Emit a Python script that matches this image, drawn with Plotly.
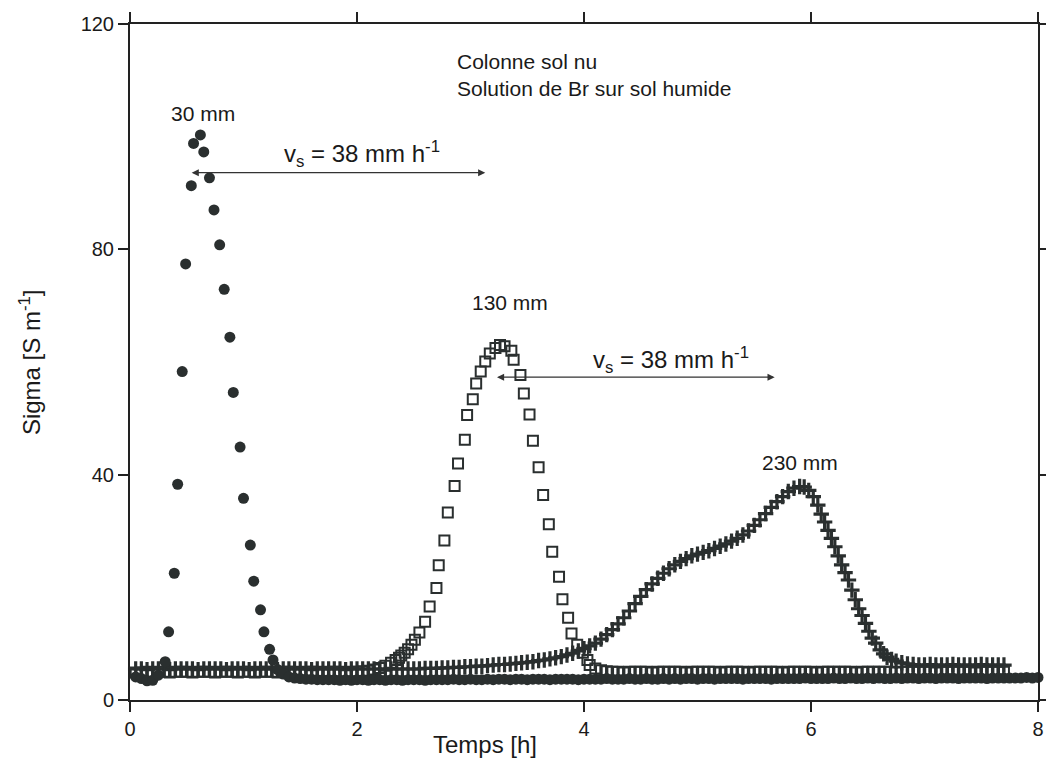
import plotly.graph_objects as go

# 30 mm probe (filled circles)
circ_t = [0.05, 0.10, 0.15, 0.20, 0.25,
          0.31, 0.34, 0.39, 0.42, 0.46, 0.49, 0.54, 0.56, 0.62, 0.65,
          0.70, 0.74, 0.79, 0.83, 0.88, 0.91, 0.97, 1.00, 1.06, 1.09,
          1.15, 1.18, 1.23, 1.26,
          1.30, 1.35, 1.40, 1.45, 1.50, 1.55, 1.60, 1.65, 1.70, 1.75,
          1.80, 1.85, 1.90, 1.95, 2.00, 2.05, 2.10, 2.15, 2.20, 2.25,
          2.30, 2.35, 2.40, 2.45, 2.50, 2.55, 2.60, 2.65, 2.70, 2.75,
          2.80, 2.85, 2.90, 2.95, 3.00, 3.05, 3.10, 3.15, 3.20, 3.25,
          3.30, 3.35, 3.40, 3.45, 3.50, 3.55, 3.60, 3.65, 3.70, 3.75,
          3.80, 3.85, 3.90, 3.95, 4.00, 4.05, 4.10, 4.15, 4.20, 4.25,
          4.30, 4.35, 4.40, 4.45, 4.50, 4.55, 4.60, 4.65, 4.70, 4.75,
          4.80, 4.85, 4.90, 4.95, 5.00, 5.05, 5.10, 5.15, 5.20, 5.25,
          5.30, 5.35, 5.40, 5.45, 5.50, 5.55, 5.60, 5.65, 5.70, 5.75,
          5.80, 5.85, 5.90, 5.95, 6.00, 6.05, 6.10, 6.15, 6.20, 6.25,
          6.30, 6.35, 6.40, 6.45, 6.50, 6.55, 6.60, 6.65, 6.70, 6.75,
          6.80, 6.85, 6.90, 6.95, 7.00, 7.05, 7.10, 7.15, 7.20, 7.25,
          7.30, 7.35, 7.40, 7.45, 7.50, 7.55, 7.60, 7.65, 7.70, 7.75,
          7.80, 7.85, 7.90, 7.95, 8.00]
circ_s = [4.1, 3.8, 3.4, 3.5, 4.4,
          6.8, 12.1, 22.5, 38.3, 58.3, 77.4, 91.3, 98.8, 100.3, 97.3,
          92.7, 87.0, 80.8, 72.9, 64.4, 54.6, 44.9, 35.8, 27.5, 21.1,
          16.0, 12.1, 9.0, 7.1,
          5.4, 4.6, 4.1, 3.9, 3.8, 3.7, 3.7, 3.6, 3.6, 3.6,
          3.6, 3.5, 3.6, 3.5, 3.6, 3.6, 3.5, 3.6, 3.6, 3.5,
          3.6, 3.6, 3.5, 3.6, 3.6, 3.6, 3.5, 3.6, 3.6, 3.6,
          3.6, 3.7, 3.6, 3.6, 3.7, 3.6, 3.6, 3.7, 3.6, 3.7,
          3.7, 3.6, 3.7, 3.7, 3.6, 3.7, 3.7, 3.7, 3.6, 3.7,
          3.7, 3.7, 3.7, 3.6, 3.7, 3.7, 3.7, 3.7, 3.8, 3.7,
          3.7, 3.7, 3.8, 3.7, 3.7, 3.8, 3.7, 3.7, 3.8, 3.7,
          3.8, 3.7, 3.8, 3.8, 3.7, 3.8, 3.8, 3.7, 3.8, 3.8,
          3.8, 3.8, 3.7, 3.8, 3.8, 3.8, 3.8, 3.7, 3.8, 3.8,
          3.8, 3.8, 3.8, 3.9, 3.8, 3.8, 3.8, 3.8, 3.9, 3.8,
          3.8, 3.9, 3.8, 3.8, 3.9, 3.8, 3.9, 3.8, 3.8, 3.9,
          3.8, 3.9, 3.9, 3.8, 3.9, 3.9, 3.8, 3.9, 3.9, 3.9,
          3.8, 3.9, 3.9, 3.9, 3.9, 3.8, 3.9, 3.9, 3.9, 3.9,
          3.9, 3.9, 4.0, 3.9, 4.0]

# 130 mm probe (open squares)
sq_t = [0.05, 0.10, 0.15, 0.20, 0.25, 0.30, 0.35, 0.40, 0.45,
        0.50, 0.55, 0.60, 0.65, 0.70, 0.75, 0.80, 0.85, 0.90, 0.95,
        1.00, 1.05, 1.10, 1.15, 1.20, 1.25, 1.30, 1.35, 1.40, 1.45,
        1.50, 1.55, 1.60, 1.65, 1.70, 1.75, 1.80, 1.85, 1.90, 1.95,
        2.00,
        2.05, 2.10, 2.15, 2.20, 2.25, 2.30, 2.34, 2.37, 2.39, 2.42,
        2.45, 2.48, 2.51, 2.55, 2.60, 2.64, 2.70, 2.72, 2.77, 2.80,
        2.86, 2.89, 2.95, 2.97, 3.02, 3.05, 3.09, 3.13, 3.17, 3.22,
        3.26, 3.30, 3.36, 3.38, 3.44, 3.47, 3.52, 3.55, 3.60, 3.64,
        3.69, 3.72, 3.78, 3.81, 3.86, 3.89, 3.94, 3.99, 4.03, 4.05,
        4.10, 4.15, 4.20,
        4.25, 4.30, 4.35, 4.40, 4.45, 4.50, 4.55, 4.60, 4.65, 4.70,
        4.75, 4.80, 4.85, 4.90, 4.95, 5.00, 5.05, 5.10, 5.15, 5.20,
        5.25, 5.30, 5.35, 5.40, 5.45, 5.50, 5.55, 5.60, 5.65, 5.70,
        5.75, 5.80, 5.85, 5.90, 5.95, 6.00, 6.05, 6.10, 6.15, 6.20,
        6.25, 6.30, 6.35, 6.40, 6.45, 6.50, 6.55, 6.60, 6.65, 6.70,
        6.75, 6.80, 6.85, 6.90, 6.95, 7.00, 7.05, 7.10, 7.15, 7.20,
        7.25, 7.30, 7.35, 7.40, 7.45, 7.50, 7.55, 7.60, 7.65, 7.70]
sq_s = [4.9, 4.9, 5.0, 4.9, 5.0, 5.0, 4.9, 5.0, 5.0,
        5.0, 4.9, 5.0, 5.0, 5.0, 4.9, 5.0, 5.0, 5.0, 4.9,
        5.0, 5.0, 4.9, 5.0, 5.0, 5.0, 4.9, 5.0, 5.0, 5.0,
        4.9, 5.0, 5.0, 5.0, 4.9, 5.0, 5.0, 5.0, 4.9, 5.0,
        5.0,
        5.1, 5.2, 5.4, 5.7, 6.1, 6.6, 7.1, 7.5, 7.9, 8.4,
        9.0, 9.8, 10.7, 12.0, 13.9, 16.6, 19.9, 23.9, 28.3, 33.3,
        38.0, 42.0, 46.2, 50.6, 53.4, 56.2, 58.3, 60.1, 61.5, 62.5,
        63.0, 62.8, 62.0, 60.4, 57.7, 54.4, 50.7, 46.0, 41.3, 36.4,
        31.2, 26.3, 21.9, 17.9, 14.6, 11.8, 9.8, 8.4, 7.1, 6.2,
        5.6, 5.3, 5.1,
        5.0, 5.0, 4.9, 5.0, 5.0, 5.0, 5.0, 4.9, 5.0, 5.0,
        5.0, 5.0, 5.0, 4.9, 5.0, 5.0, 5.0, 5.0, 5.0, 4.9,
        5.0, 5.0, 5.0, 5.0, 4.9, 5.0, 5.0, 5.0, 5.0, 5.0,
        4.9, 5.0, 5.0, 5.0, 5.0, 5.0, 4.9, 5.0, 5.0, 5.0,
        5.0, 5.0, 5.0, 4.9, 5.0, 5.0, 5.0, 5.0, 5.0, 5.0,
        4.9, 5.0, 5.0, 5.0, 5.0, 5.0, 5.0, 4.9, 5.0, 5.0,
        5.0, 5.0, 5.0, 5.0, 4.9, 5.0, 5.0, 5.0, 5.0, 5.0]

# 230 mm probe (plus signs)
plus_t = [0.05, 0.10, 0.15, 0.20, 0.25, 0.30, 0.35, 0.40, 0.45,
          0.50, 0.55, 0.60, 0.65, 0.70, 0.75, 0.80, 0.85, 0.90, 0.95,
          1.00, 1.05, 1.10, 1.15, 1.20, 1.25, 1.30, 1.35, 1.40, 1.45,
          1.50, 1.55, 1.60, 1.65, 1.70, 1.75, 1.80, 1.85, 1.90, 1.95,
          2.00, 2.05, 2.10, 2.15, 2.20, 2.25, 2.30, 2.35, 2.40, 2.45,
          2.50, 2.55, 2.60, 2.65, 2.70, 2.75, 2.80, 2.85, 2.90, 2.95,
          3.00, 3.05, 3.10, 3.15, 3.20, 3.25, 3.30, 3.35, 3.40, 3.45,
          3.50, 3.55, 3.60, 3.65, 3.70, 3.75, 3.80, 3.85, 3.90, 3.95,
          4.00, 4.05, 4.10, 4.15, 4.20, 4.25, 4.30, 4.35, 4.40, 4.45,
          4.50, 4.55, 4.60, 4.65, 4.70, 4.75, 4.80, 4.85, 4.90, 4.95,
          5.00, 5.05, 5.10, 5.15, 5.20, 5.25, 5.30, 5.35, 5.40, 5.45,
          5.50, 5.55, 5.60, 5.65, 5.70, 5.75, 5.80, 5.85, 5.90,
          5.94, 5.98, 6.02, 6.06, 6.09, 6.12, 6.15, 6.18, 6.21, 6.24,
          6.27, 6.30, 6.33, 6.36, 6.39, 6.42, 6.45, 6.48, 6.51, 6.54,
          6.57, 6.61, 6.64, 6.67, 6.71, 6.75, 6.80, 6.85, 6.90,
          6.95, 7.00, 7.05, 7.10, 7.15, 7.20, 7.25, 7.30, 7.35, 7.40,
          7.45, 7.50, 7.55, 7.60, 7.65, 7.70]
plus_s = [5.5, 5.5, 5.4, 5.5, 5.5, 5.5, 5.4, 5.5, 5.5,
          5.5, 5.5, 5.4, 5.5, 5.5, 5.5, 5.5, 5.4, 5.5, 5.5,
          5.5, 5.4, 5.5, 5.5, 5.5, 5.5, 5.4, 5.5, 5.5, 5.5,
          5.5, 5.5, 5.4, 5.5, 5.5, 5.5, 5.5, 5.5, 5.4, 5.5,
          5.5, 5.5, 5.5, 5.5, 5.5, 5.5, 5.5, 5.5, 5.5, 5.5,
          5.5, 5.5, 5.6, 5.6, 5.6, 5.7, 5.7, 5.8, 5.8, 5.9,
          5.9, 6.0, 6.0, 6.1, 6.2, 6.3, 6.3, 6.4, 6.5, 6.6,
          6.7, 6.8, 7.0, 7.1, 7.3, 7.5, 7.7, 8.0, 8.3, 8.7,
          9.1, 9.6, 10.1, 10.8, 11.6, 12.5, 13.5, 14.6, 15.8, 17.1,
          18.4, 19.6, 20.6, 21.6, 22.5, 23.3, 24.0, 24.6, 25.1, 25.6,
          25.9, 26.2, 26.5, 26.9, 27.3, 27.7, 28.2, 28.7, 29.3, 30.0,
          31.0, 32.0, 33.1, 34.2, 35.2, 36.1, 37.0, 37.6, 37.9,
          37.8, 37.2, 36.1, 34.6, 33.0, 31.6, 30.1, 28.7, 27.2, 25.6,
          24.0, 22.6, 21.3, 19.5, 17.8, 16.2, 15.0, 13.6, 12.2, 11.0,
          10.1, 8.9, 8.2, 7.6, 7.2, 6.9, 6.6, 6.4, 6.3,
          6.2, 6.2, 6.3, 6.2, 6.2, 6.2, 6.3, 6.2, 6.2, 6.2,
          6.2, 6.3, 6.2, 6.2, 6.2, 6.2]

x_ticks = [0, 2, 4, 6, 8]
y_ticks = [0, 40, 80, 120]

ink = "#2a2f2f"
txt = "#1a1a1a"
font = "Liberation Sans, Arial, sans-serif"

fig = go.Figure()
fig.add_trace(go.Scatter(
    x=plus_t, y=plus_s, mode="markers", cliponaxis=False,
    marker=dict(symbol="cross-thin-open", size=11, color=ink, line=dict(width=3.2, color=ink)),
))
fig.add_trace(go.Scatter(
    x=sq_t, y=sq_s, mode="markers", cliponaxis=False,
    marker=dict(symbol="square-open", size=10, color=ink, line=dict(width=2, color=ink)),
))
fig.add_trace(go.Scatter(
    x=circ_t, y=circ_s, mode="markers", cliponaxis=False,
    marker=dict(symbol="circle", size=11, color=ink, line=dict(width=0)),
))

axis_style = dict(
    showline=True, linewidth=2, linecolor="#222", mirror="ticks",
    ticks="outside", ticklen=10, tickwidth=1.5, tickcolor="#222",
    showgrid=False, zeroline=False, automargin=False,
    tickfont=dict(family=font, size=20, color=txt),
)
fig.update_xaxes(range=[0, 8], tickvals=x_ticks, **axis_style)
fig.update_yaxes(range=[0, 120], tickvals=y_ticks, **axis_style)

notes = [
    dict(x=2.86, y=113.3, text="Colonne sol nu", xanchor="left", size=21),
    dict(x=2.86, y=108.6, text="Solution de Br sur sol humide", xanchor="left", size=21),
    dict(x=0.64, y=104.2, text="30 mm", xanchor="center", size=21),
    dict(x=3.35, y=70.5, text="130 mm", xanchor="center", size=21),
    dict(x=5.90, y=42.1, text="230 mm", xanchor="center", size=21),
    dict(x=2.04, y=97.0, text="v<sub>s</sub> = 38 mm h<sup>-1</sup>", xanchor="center", size=24),
    dict(x=4.77, y=60.3, text="v<sub>s</sub> = 38 mm h<sup>-1</sup>", xanchor="center", size=24),
]
for n in notes:
    fig.add_annotation(
        x=n["x"], y=n["y"], text=n["text"], xanchor=n["xanchor"], yanchor="middle",
        showarrow=False, font=dict(family=font, size=n["size"], color=txt),
    )

# velocity arrows (double headed)
for x0, x1, yv in [(0.53, 3.13, 93.6), (3.22, 5.68, 57.3)]:
    fig.add_annotation(
        x=x1, y=yv, ax=x0, ay=yv, xref="x", yref="y", axref="x", ayref="y",
        text="", showarrow=True, arrowhead=2, startarrowhead=2, arrowside="end+start",
        arrowsize=1.1, arrowwidth=1.3, arrowcolor="#333",
    )

fig.add_annotation(
    x=0.391, y=-0.066, xref="paper", yref="paper", text="Temps [h]",
    showarrow=False, xanchor="center", yanchor="middle",
    font=dict(family=font, size=24, color=txt),
)
fig.add_annotation(
    x=-0.110, y=0.5, xref="paper", yref="paper", text="Sigma [S m<sup>-1</sup>]",
    showarrow=False, textangle=-90, xanchor="center", yanchor="middle",
    font=dict(family=font, size=24, color=txt),
)

fig.update_layout(
    width=1046, height=774,
    margin=dict(l=130, r=8, t=24, b=74),
    plot_bgcolor="white", paper_bgcolor="white",
    showlegend=False,
)

# drop the default page margin so the figure sits at the window origin
fig.write_html(
    "out.html",
    config={"displayModeBar": False},
    post_script="document.body.style.margin='0';",
)
